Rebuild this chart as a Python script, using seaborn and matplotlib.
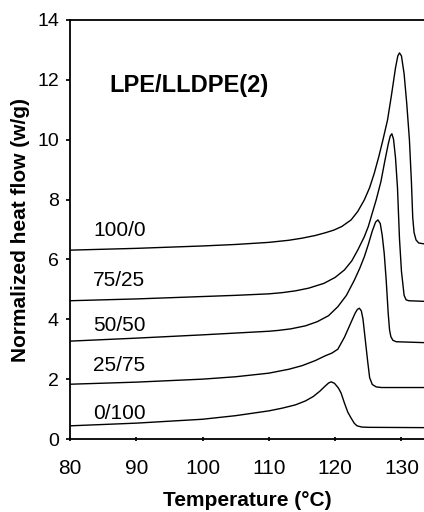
"""DSC melting endotherms, LPE/LLDPE(2) blends — normalized heat flow vs temperature."""
import numpy as np
import pandas as pd
import matplotlib
matplotlib.use("Agg")
import matplotlib.pyplot as plt
import seaborn as sns

# values (temperature in degC, heat flow in W/g)
t_100_0 = [80, 90, 100, 105, 110, 113, 115, 117, 118.5, 119.8, 121, 122.4, 123.4, 124.4, 125.2,
           125.9, 126.6, 127.2, 127.9, 128.5, 129.1, 129.45, 129.7, 130.0, 130.4, 130.8,
           131.2, 131.5, 131.7, 131.9, 132.2, 132.6, 133.4]
hf_100_0 = [6.31, 6.37, 6.45, 6.5, 6.57, 6.64, 6.71, 6.8, 6.89, 6.98, 7.1, 7.32, 7.6, 7.99, 8.4,
            8.88, 9.45, 9.99, 10.66, 11.5, 12.4, 12.8, 12.9, 12.8, 12.2, 11.2,
            10.0, 8.6, 7.4, 6.9, 6.65, 6.55, 6.52]

t_75_25 = [80, 90, 100, 105, 110, 112, 114, 116, 118.3, 120, 121.4, 122.5, 123.4, 124.4, 125.0,
           125.6, 126.2, 126.9, 127.5, 128.0, 128.3, 128.55, 128.8, 129.1, 129.4, 129.7, 130.0,
           130.2, 130.4, 130.7, 131.1, 133.4]
hf_75_25 = [4.62, 4.68, 4.76, 4.8, 4.85, 4.89, 4.95, 5.04, 5.2, 5.4, 5.65, 5.95, 6.31, 6.76, 7.1,
            7.55, 8.0, 8.6, 9.3, 9.85, 10.12, 10.2, 10.02, 9.4, 8.4, 6.7, 5.6,
            5.2, 4.8, 4.65, 4.62, 4.6]

t_50_50 = [80, 90, 100, 105, 110, 111.5, 113.3, 115.5, 117.3, 119, 120.4, 121.7, 122.9, 123.7,
           124.4, 125.0, 125.6, 126.1, 126.45, 126.8, 127.1, 127.4, 127.7, 128.0, 128.2, 128.4,
           128.7, 129.2, 133.4]
hf_50_50 = [3.27, 3.37, 3.48, 3.54, 3.6, 3.63, 3.68, 3.78, 3.92, 4.12, 4.42, 4.8, 5.31, 5.7,
            6.09, 6.5, 6.95, 7.25, 7.32, 7.2, 6.8, 6.2, 5.3, 4.2, 3.65, 3.42,
            3.3, 3.25, 3.22]

t_25_75 = [80, 90, 100, 105, 110, 113, 115, 117, 118.5, 119.5, 120.4, 121.4, 122.3, 123.0,
           123.35, 123.65, 123.95, 124.2, 124.6, 124.9, 125.2, 125.6, 126.2, 127, 133.4]
hf_25_75 = [1.83, 1.9, 2.0, 2.08, 2.2, 2.33, 2.45, 2.62, 2.78, 2.87, 3.0, 3.4, 3.85, 4.2,
            4.33, 4.37, 4.28, 4.0, 3.2, 2.6, 2.05, 1.82, 1.74, 1.72, 1.72]

t_0_100 = [80, 90, 100, 105, 110, 112, 114, 115.5, 116.7, 117.7, 118.5, 119.0, 119.4, 119.9,
           120.5, 120.9, 121.4, 121.9, 122.4, 122.9, 123.3, 124.0, 125, 133.4]
hf_0_100 = [0.44, 0.53, 0.66, 0.78, 0.94, 1.03, 1.14, 1.27, 1.42, 1.6, 1.77, 1.87, 1.91, 1.86,
            1.7, 1.53, 1.2, 0.9, 0.7, 0.52, 0.44, 0.4, 0.39, 0.38]

BLENDS = ["100/0", "75/25", "50/50", "25/75", "0/100"]
CURVES = [(t_100_0, hf_100_0), (t_75_25, hf_75_25), (t_50_50, hf_50_50),
          (t_25_75, hf_25_75), (t_0_100, hf_0_100)]
LABEL_Y = [6.95, 5.28, 3.78, 2.47, 0.84]  # where the blend names sit


def montar() -> pd.DataFrame:
    partes = []
    for nome, (t, hf) in zip(BLENDS, CURVES):
        partes.append(pd.DataFrame({"temp": t, "hf": hf, "blend": nome}))
    return pd.concat(partes, ignore_index=True)


def main():
    df = montar()
    sns.set_theme(style="ticks")
    plt.rcParams["font.family"] = ["Liberation Sans", "DejaVu Sans"]
    # tudo em preto, como no original impresso
    for k in ("text.color", "axes.labelcolor", "xtick.color", "ytick.color"):
        plt.rcParams[k] = "black"

    fig = plt.figure(figsize=(4.24, 5.12), dpi=100)
    ax = fig.add_axes([70 / 424, 1 - 439 / 512, 1 - 70 / 424, (439 - 20) / 512])
    sns.lineplot(data=df, x="temp", y="hf", units="blend", estimator=None,
                 sort=False, color="black", lw=1.0, ax=ax)

    for nome, y in zip(BLENDS, LABEL_Y):
        ax.text(83.5, y, nome, fontsize=15, va="center", ha="left")
    ax.text(86.0, 11.8, "LPE/LLDPE(2)", fontsize=17, fontweight="bold",
            va="center", ha="left")

    ax.set_xlim(80, 133.4)
    ax.set_ylim(0, 14)
    ax.set_xticks(np.arange(80, 131, 10))
    ax.set_yticks(np.arange(0, 15, 2))
    ax.tick_params(axis="x", labelsize=15, pad=13, length=3, direction="inout")
    ax.tick_params(axis="y", labelsize=14, pad=5, length=3)
    ax.set_xlabel("Temperature (°C)", fontsize=15, fontweight="bold", labelpad=9)
    ax.set_ylabel("Normalized heat flow (w/g)", fontsize=15, fontweight="bold",
                  labelpad=5)
    ax.spines["right"].set_visible(False)
    for s in ("left", "bottom", "top"):
        ax.spines[s].set_linewidth(1.3)
        ax.spines[s].set_color("black")

    fig.savefig("out.png", dpi=100)
    plt.close(fig)


if __name__ == "__main__":
    main()
